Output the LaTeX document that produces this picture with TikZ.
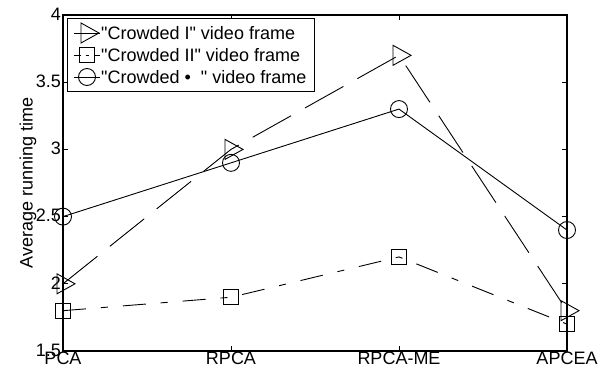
\documentclass[tikz,border=0pt]{standalone}
\usepackage{fontspec}
\setmainfont{Liberation Sans}[Ligatures=TeXOff]
\begin{document}
\begin{tikzpicture}[x=1pt,y=1pt,
  axisline/.style={line width=1.1pt},
  tickline/.style={line width=0.8pt},
  dataline/.style={line width=0.9pt},
  lineI/.style={dataline, dash pattern=on 44pt off 16pt},
  lineII/.style={dataline, dash pattern=on 23pt off 15pt on 7pt off 15pt},
  lineIII/.style={dataline},
  lbl/.style={inner sep=0pt, font=\fontsize{18}{20}\selectfont},
  trimark/.pic={\draw[line width=0.9pt] (-6pt,10pt) -- (12pt,0pt) -- (-6pt,-10pt) -- cycle;},
  sqmark/.pic={\draw[line width=0.9pt] (-7.5pt,-7.5pt) rectangle (7.5pt,7.5pt);},
  cirmark/.pic={\draw[line width=0.9pt] (0,0) circle[radius=8.5pt];}
]
\useasboundingbox (0,0) rectangle (610,373);

% axis box
\draw[axisline] (63,22) rectangle (567,358);

% y ticks and labels
\foreach \v/\t in {22/1.5, 89.2/2, 156.4/2.5, 223.6/3, 290.8/3.5, 358/4}{
  \draw[tickline] (63,\v) -- (68,\v);
  \draw[tickline] (567,\v) -- (562,\v);
  \node[lbl, anchor=east] (yl\t) at (61,\v+1) {\t};
}
% x ticks and labels
\foreach \x/\t/\n in {63/PCA/1, 231/RPCA/2, 399/RPCA-ME/3, 567/APCEA/4}{
  \draw[tickline] (\x,22) -- (\x,27);
  \draw[tickline] (\x,358) -- (\x,353);
  \node[lbl, anchor=north] (xl\n) at (\x,21) {\t};
}

% axis label
\node[lbl, rotate=90] (ylab) at (28,190) {Average running time};

% data coordinates
\begin{scope}[x=168pt, y=134.4pt, shift={(63pt,-179.6pt)}]
  \coordinate (a1) at (0,2.0);
  \coordinate (a2) at (1,3.0);
  \coordinate (a3) at (2,3.7);
  \coordinate (a4) at (3,1.8);
  \coordinate (b1) at (0,1.8);
  \coordinate (b2) at (1,1.9);
  \coordinate (b3) at (2,2.2);
  \coordinate (b4) at (3,1.7);
  \coordinate (c1) at (0,2.5);
  \coordinate (c2) at (1,2.9);
  \coordinate (c3) at (2,3.3);
  \coordinate (c4) at (3,2.4);
\end{scope}

\draw[lineI] (a1) -- (a2) -- (a3) -- (a4);
\draw[lineII] (b1) -- (b2) -- (b3) -- (b4);
\draw[lineIII] (c1) -- (c2) -- (c3) -- (c4);
\foreach \i in {1,2,3,4}{
  \pic at (a\i) {trimark};
  \pic at (b\i) {sqmark};
  \pic at (c\i) {cirmark};
}

% legend
\draw[line width=0.8pt, fill=white] (67,282) rectangle (314,355);
\coordinate (la) at (74,340); \coordinate (lam) at (87,340); \coordinate (lae) at (100,340);
\coordinate (lb) at (74,318); \coordinate (lbm) at (87,318); \coordinate (lbe) at (100,318);
\coordinate (lc) at (74,296); \coordinate (lcm) at (87,296); \coordinate (lce) at (100,296);
\draw[dataline] (la) -- (lae);
\pic at (lam) {trimark};
\draw[dataline] (lb) -- ++(6.5,0);
\draw[dataline] ([xshift=-1.5pt]lbm) -- ([xshift=1.5pt]lbm);
\draw[dataline] (lbe) -- ++(-6.5,0);
\pic at (lbm) {sqmark};
\draw[dataline] (lc) -- (lce);
\pic at (lcm) {cirmark};
\node[lbl, anchor=west] (ta) at (101,340) {"Crowded I" video frame};
\node[lbl, anchor=west] (tb) at (101,318) {"Crowded II" video frame};
\node[lbl, anchor=west] (tc) at (101,296) {"Crowded •\ \ " video frame};
\end{tikzpicture}
\end{document}
